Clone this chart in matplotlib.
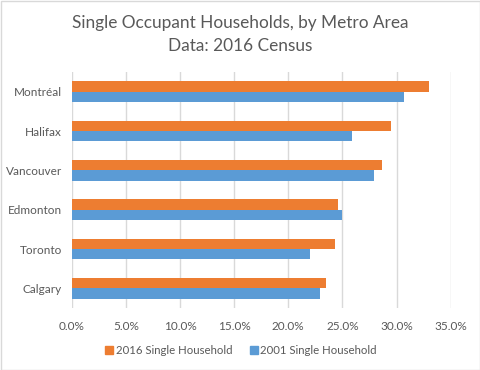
import matplotlib
matplotlib.use("Agg")
import matplotlib.pyplot as plt
import numpy as np
from matplotlib.patches import Rectangle
from matplotlib.lines import Line2D
from matplotlib.ticker import FuncFormatter, MultipleLocator

categories = ["Montréal", "Halifax", "Vancouver", "Edmonton", "Toronto", "Calgary"]
values_2016 = [33.0, 29.5, 28.65, 24.6, 24.3, 23.5]
values_2001 = [30.7, 25.9, 27.9, 25.0, 22.0, 22.9]
series_names = ["2016 Single Household", "2001 Single Household"]
title_lines = ["Single Occupant Households, by Metro Area", "Data: 2016 Census"]

c16 = "#ED7D31"
c01 = "#5B9BD5"
txt = "#595959"
grid = "#D9D9D9"

plt.rcParams['font.family'] = ['Lato', 'DejaVu Sans']

fig = plt.figure(figsize=(4.8, 3.7), dpi=100)
ax = fig.add_axes([71.7/480, 1-308/370, 379/480, 236/370])

y = np.arange(len(categories))
h = 0.262
ax.barh(y - h/2, values_2016, height=h, color=c16, label=series_names[0], zorder=3)
ax.barh(y + h/2, values_2001, height=h, color=c01, label=series_names[1], zorder=3)

ax.set_ylim(len(categories) - 0.5, -0.5)
ax.set_xlim(0, 35)
ax.xaxis.set_major_locator(MultipleLocator(5))
ax.xaxis.set_major_formatter(FuncFormatter(lambda v, p: f"{v:.1f}%"))
ax.set_yticks(y)
ax.set_yticklabels(categories)
ax.grid(axis='x', color=grid, linewidth=1, zorder=0)
for s in ax.spines.values():
    s.set_visible(False)
ax.tick_params(axis='both', length=0, colors=txt, labelsize=8.5)
ax.tick_params(axis='x', pad=9)
ax.tick_params(axis='y', pad=7)

fig.text(0.5, 1-22.7/370, title_lines[0], ha='center', va='center', fontsize=12.4, color=txt)
fig.text(0.5, 1-46/370, title_lines[1], ha='center', va='center', fontsize=12.4, color=txt)

handles = [Line2D([0], [0], marker='s', linestyle='none', markersize=5.5,
                  markerfacecolor=c, markeredgecolor=c) for c in (c16, c01)]
fig.legend(handles, series_names, loc='center', bbox_to_anchor=(0.5, 1-350/370),
           ncol=2, frameon=False, fontsize=8.2, labelcolor=txt,
           handletextpad=0.05, columnspacing=1.4, handlelength=1.0)

fig.patches.append(Rectangle((0.5/480, 0.5/370), 479/480, 369/370, transform=fig.transFigure,
                             fill=False, edgecolor=grid, linewidth=1))

fig.savefig("out.png", dpi=100, facecolor="white")
